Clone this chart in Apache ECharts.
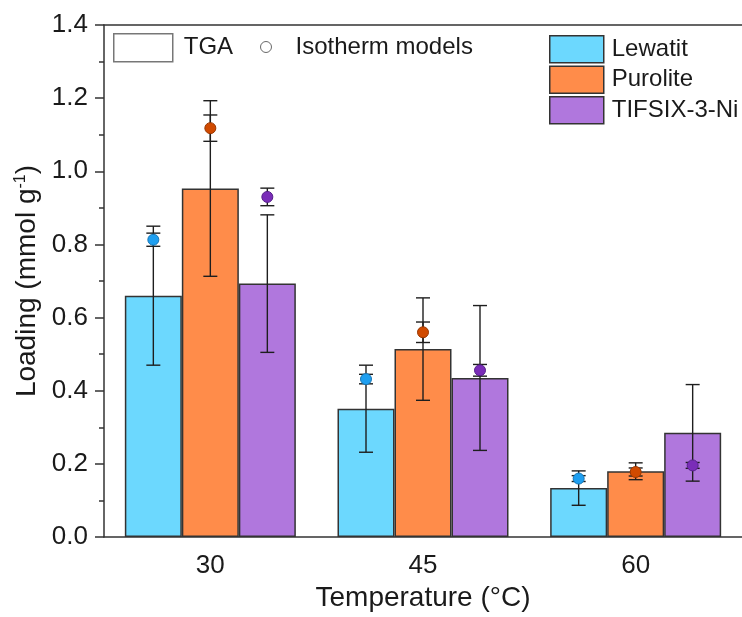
<!DOCTYPE html>
<html>
<head>
<meta charset="utf-8">
<script src="https://cdn.jsdelivr.net/npm/echarts@6/dist/echarts.min.js"></script>
<style>
  html, body { margin: 0; padding: 0; background: #fff; }
  #chart { width: 742px; height: 617px; }
</style>
</head>
<body>
<div id="chart"></div>
<script>
const temps = [30, 45, 60];
const names = ['Lewatit', 'Purolite', 'TIFSIX-3-Ni'];

// TGA bars and their errors
const tgaLewatit = [0.66, 0.351, 0.134];
const tgaLewatitErr = [0.19, 0.119, 0.047];
const tgaPurolite = [0.953, 0.514, 0.18];
const tgaPuroliteErr = [0.24, 0.14, 0.023];
const tgaTifsix = [0.693, 0.435, 0.285];
const tgaTifsixErr = [0.188, 0.198, 0.132];

// isotherm model points and their errors
const isoLewatit = [0.813, 0.432, 0.16];
const isoLewatitErr = [0.018, 0.013, 0.008];
const isoPurolite = [1.118, 0.56, 0.178];
const isoPuroliteErr = [0.036, 0.028, 0.011];
const isoTifsix = [0.93, 0.456, 0.196];
const isoTifsixErr = [0.024, 0.016, 0.008];

const yTicks = [0, 0.2, 0.4, 0.6, 0.8, 1.0, 1.2, 1.4];

const barColors = ['#6cd8fe', '#ff8c4a', '#b077dd'];
const dotColors = ['#1f9ff0', '#d04a00', '#7a2db8'];
const dotBorders = ['#1676b5', '#9a3700', '#56208a'];
const FONT = 'Arial, "Liberation Sans", sans-serif';
const BAR_W = 57;
const AXIS_COLOR = '#333';

const tga = [tgaLewatit, tgaPurolite, tgaTifsix];
const tgaErr = [tgaLewatitErr, tgaPuroliteErr, tgaTifsixErr];
const iso = [isoLewatit, isoPurolite, isoTifsix];
const isoErr = [isoLewatitErr, isoPuroliteErr, isoTifsixErr];

function errorBars(k, vals, errs, withDot) {
  return {
    type: 'custom',
    z: withDot ? 4 : 3,
    encode: { x: 0, y: 1 },
    data: temps.map((t, j) => [t, vals[j], errs[j]]),
    renderItem: function (params, api) {
      const x = api.value(0), v = api.value(1), e = api.value(2);
      const hi = api.coord([x, v + e]);
      const lo = api.coord([x, v - e]);
      const mid = api.coord([x, v]);
      const cx = mid[0] + (k - 1) * BAR_W;
      const line = { stroke: '#1e1e1e', lineWidth: 1.4 };
      const cap = 7;
      const children = [
        { type: 'line', shape: { x1: cx, y1: hi[1], x2: cx, y2: lo[1] }, style: line },
        { type: 'line', shape: { x1: cx - cap, y1: hi[1], x2: cx + cap, y2: hi[1] }, style: line },
        { type: 'line', shape: { x1: cx - cap, y1: lo[1], x2: cx + cap, y2: lo[1] }, style: line }
      ];
      if (withDot) {
        children.push({
          type: 'circle',
          shape: { cx: cx, cy: mid[1], r: 5.5 },
          style: { fill: dotColors[k], stroke: dotBorders[k], lineWidth: 1 }
        });
      }
      return { type: 'group', children: children };
    }
  };
}

const series = [];
names.forEach((name, k) => {
  series.push({
    name: name,
    type: 'bar',
    barWidth: BAR_W,
    barGap: '0%',
    data: temps.map((t, j) => [t, tga[k][j]]),
    itemStyle: { color: barColors[k], borderColor: AXIS_COLOR, borderWidth: 1.5 },
    z: 2
  });
});
names.forEach((name, k) => series.push(errorBars(k, tga[k], tgaErr[k], false)));
names.forEach((name, k) => series.push(errorBars(k, iso[k], isoErr[k], true)));
series.push({ name: 'TGA', type: 'scatter', data: [] });
series.push({ name: 'Isotherm models', type: 'scatter', data: [] });

const chart = echarts.init(document.getElementById('chart'), null, { renderer: 'canvas' });
chart.setOption({
  animation: false,
  backgroundColor: '#fff',
  textStyle: { fontFamily: FONT },
  grid: { left: 104, top: 25, width: 642, height: 516.5 },
  legend: [
    {
      data: names.map((n, k) => ({ name: n, icon: 'rect', itemStyle: { color: barColors[k], borderColor: AXIS_COLOR, borderWidth: 1.5 } })),
      orient: 'vertical',
      left: 549, top: 35, padding: 0,
      itemWidth: 54, itemHeight: 27, itemGap: 2,
      textStyle: { fontSize: 24, color: '#1a1a1a', fontFamily: FONT, lineHeight: 27, padding: [0, 0, 0, 3] },
      selectedMode: false
    },
    {
      data: [{ name: 'TGA', icon: 'rect', itemStyle: { color: '#fff', borderColor: '#555', borderWidth: 1.5 } }],
      left: 113, top: 33, padding: 0,
      itemWidth: 59, itemHeight: 28,
      textStyle: { fontSize: 24, color: '#1a1a1a', fontFamily: FONT, lineHeight: 28, padding: [0, 0, 0, 6] },
      selectedMode: false
    },
    {
      data: [{ name: 'Isotherm models', icon: 'circle', itemStyle: { color: '#fff', borderColor: '#444', borderWidth: 1 } }],
      left: 260, top: 33, padding: 0,
      itemWidth: 11, itemHeight: 11,
      textStyle: { fontSize: 24, color: '#1a1a1a', fontFamily: FONT, lineHeight: 28, padding: [0, 0, 0, 19] },
      selectedMode: false
    }
  ],
  xAxis: [
    {
      type: 'value',
      min: 22.5, max: 67.5,
      name: 'Temperature (°C)',
      nameLocation: 'middle',
      nameGap: 44,
      nameTextStyle: { fontSize: 28, color: '#1a1a1a', fontFamily: FONT },
      axisLine: { show: true, onZero: false, lineStyle: { color: AXIS_COLOR, width: 1.5 } },
      axisTick: { show: false },
      splitLine: { show: false },
      axisLabel: { customValues: temps, fontSize: 26, color: '#1a1a1a', margin: 16, fontFamily: FONT }
    },
    {
      type: 'value',
      position: 'top',
      min: 22.5, max: 67.5,
      axisLine: { show: true, onZero: false, lineStyle: { color: AXIS_COLOR, width: 1.5 } },
      axisTick: { show: false },
      axisLabel: { show: false },
      splitLine: { show: false }
    }
  ],
  yAxis: {
    type: 'value',
    min: 0, max: 1.4, interval: 0.2,
    name: '{a|Loading (mmol g}{s|-1}{a|)}',
    nameLocation: 'middle',
    nameGap: 52,
    nameRotate: 90,
    nameTextStyle: {
      rich: {
        a: { fontSize: 28, color: '#1a1a1a', fontFamily: FONT },
        s: { fontSize: 16, color: '#1a1a1a', fontFamily: FONT, verticalAlign: 'top', padding: [0, 0, 10, 0] }
      }
    },
    axisLine: { show: true, lineStyle: { color: AXIS_COLOR, width: 1.5 } },
    axisTick: { show: true, inside: false, length: 9, lineStyle: { color: AXIS_COLOR, width: 1.5 } },
    minorTick: { show: true, splitNumber: 2, length: 5, lineStyle: { color: AXIS_COLOR, width: 1.5 } },
    splitLine: { show: false },
    axisLabel: {
      fontSize: 26, color: '#1a1a1a', margin: 16, fontFamily: FONT,
      formatter: v => yTicks.some(t => Math.abs(t - v) < 1e-9) ? v.toFixed(1) : ''
    }
  },
  series: series
});
</script>
</body>
</html>
